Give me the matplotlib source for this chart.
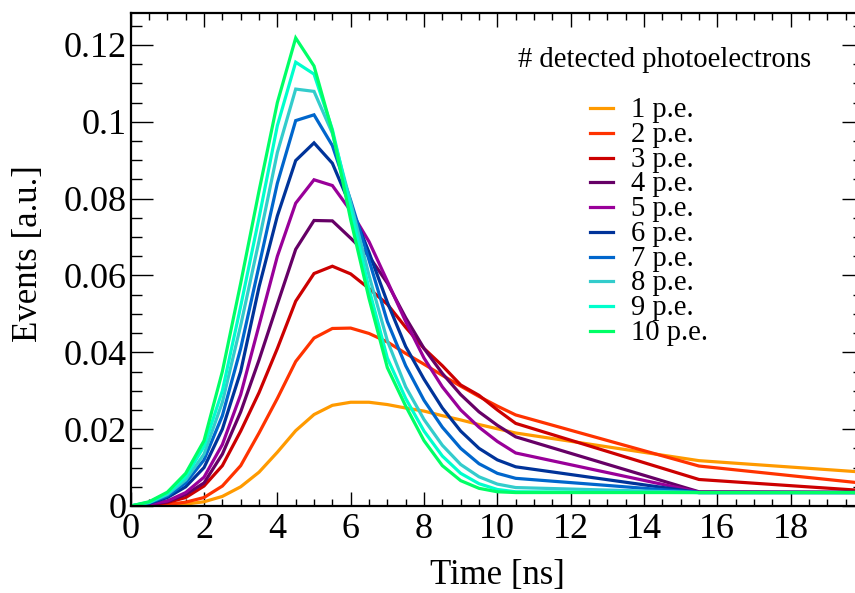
import numpy as np
import matplotlib.pyplot as plt
from matplotlib.lines import Line2D
from matplotlib.ticker import MultipleLocator, FuncFormatter

plt.rcParams['font.family'] = ['Liberation Serif', 'DejaVu Serif']

# time axis of the pulse shapes [ns]
time_ns = [0, 0.5, 1, 1.5, 2, 2.5, 3, 3.5, 4, 4.5, 5, 5.5, 6, 6.5, 7, 7.5,
           8, 8.5, 9, 9.5, 10, 10.5, 15.5, 20]

# normalised event distributions, one per number of photoelectrons
pe1 = [0, 0.0001, 0.0002, 0.0005, 0.0011, 0.0025, 0.0050, 0.0088, 0.0140, 0.0196,
       0.0238, 0.0262, 0.0270, 0.0270, 0.0264, 0.0255, 0.0247, 0.0235, 0.0224,
       0.0212, 0.0201, 0.0190, 0.0118, 0.0088]
pe2 = [0, 0.0001, 0.0004, 0.0010, 0.0022, 0.0052, 0.0105, 0.0190, 0.0280, 0.0376,
       0.0437, 0.0462, 0.0463, 0.0449, 0.0427, 0.0397, 0.0369, 0.0340, 0.0312,
       0.0285, 0.0260, 0.0237, 0.0104, 0.0059]
pe3 = [0, 0.0003, 0.0009, 0.0022, 0.0052, 0.0105, 0.0195, 0.0295, 0.0410, 0.0533,
       0.0605, 0.0624, 0.0604, 0.0566, 0.0525, 0.0465, 0.0410, 0.0365, 0.0315,
       0.0288, 0.0250, 0.0215, 0.0069, 0.0040]
pe4 = [0, 0.0004, 0.0011, 0.0030, 0.0060, 0.0135, 0.0245, 0.0380, 0.0525, 0.0668,
       0.0743, 0.0742, 0.0697, 0.0650, 0.0580, 0.0490, 0.0410, 0.0345, 0.0290,
       0.0245, 0.0210, 0.0180, 0.0037, 0.0036]
pe5 = [0, 0.0005, 0.0013, 0.0035, 0.0075, 0.0160, 0.0290, 0.0470, 0.0650, 0.0788,
       0.0849, 0.0834, 0.0768, 0.0688, 0.0585, 0.0480, 0.0385, 0.0310, 0.0250,
       0.0205, 0.0168, 0.0138, 0.0036, 0.0035]
pe6 = [0, 0.0007, 0.0022, 0.0050, 0.0100, 0.0200, 0.0350, 0.0570, 0.0755, 0.0899,
       0.0945, 0.0892, 0.0780, 0.0660, 0.0530, 0.0415, 0.0330, 0.0255, 0.0195,
       0.0150, 0.0120, 0.0102, 0.0035, 0.0035]
pe7 = [0, 0.0008, 0.0026, 0.0060, 0.0120, 0.0235, 0.0410, 0.0625, 0.0840, 0.1003,
       0.1018, 0.0938, 0.0795, 0.0640, 0.0480, 0.0365, 0.0275, 0.0205, 0.0150,
       0.0110, 0.0085, 0.0072, 0.0035, 0.0035]
pe8 = [0, 0.0009, 0.0030, 0.0068, 0.0135, 0.0270, 0.0470, 0.0690, 0.0920, 0.1085,
       0.1079, 0.0970, 0.0790, 0.0600, 0.0430, 0.0310, 0.0225, 0.0158, 0.0108,
       0.0076, 0.0057, 0.0048, 0.0035, 0.0035]
pe9 = [0, 0.0010, 0.0033, 0.0076, 0.0155, 0.0300, 0.0520, 0.0750, 0.0990, 0.1155,
       0.1124, 0.0980, 0.0775, 0.0565, 0.0385, 0.0280, 0.0195, 0.0130, 0.0085,
       0.0058, 0.0043, 0.0037, 0.0035, 0.0035]
pe10 = [0, 0.0011, 0.0036, 0.0085, 0.0170, 0.0350, 0.0580, 0.0820, 0.1050, 0.1218,
        0.1145, 0.0975, 0.0745, 0.0540, 0.0360, 0.0260, 0.0170, 0.0105, 0.0066,
        0.0046, 0.0037, 0.0035, 0.0035, 0.0035]

series = [pe1, pe2, pe3, pe4, pe5, pe6, pe7, pe8, pe9, pe10]
labels = ['%d p.e.' % n for n in range(1, 11)]
colors = ['#ff9a00', '#ff3300', '#cc0000', '#660066', '#990099',
          '#003399', '#0066cc', '#33cccc', '#00ffcc', '#00ff66']

W, H = 855, 593
fig = plt.figure(figsize=(W / 100, H / 100), dpi=100)

# frame in pixels: x from 130.7 to 864 (right edge runs off the canvas), y from 13 to 506
x0, x1, y0, y1 = 130.7, 864.0, 13.0, 506.0
ax = fig.add_axes([x0 / W, 1 - y1 / H, (x1 - x0) / W, (y1 - y0) / H])

for vals, col in zip(series, colors):
    ax.plot(time_ns, vals, color=col, lw=2.3, solid_joinstyle='miter')

ax.set_xlim(0, 20)
ax.set_ylim(0, 0.1283)

ax.set_xticks(np.arange(0, 19, 2))
ax.xaxis.set_minor_locator(MultipleLocator(0.5))
ax.yaxis.set_major_locator(MultipleLocator(0.02))
ax.yaxis.set_minor_locator(MultipleLocator(0.005))
ax.yaxis.set_major_formatter(FuncFormatter(lambda v, p: '%g' % round(v, 4)))

ax.tick_params(which='both', direction='in', top=True, right=True, width=1.0,
               labelsize=26, colors='black')
ax.tick_params(axis='x', which='major', length=10, pad=5)
ax.tick_params(axis='x', which='minor', length=5)
ax.tick_params(axis='y', which='major', length=16, pad=3)
ax.tick_params(axis='y', which='minor', length=8)
for s in ax.spines.values():
    s.set_linewidth(1.6)

ax.set_xlabel('Time [ns]', fontsize=25)
ax.xaxis.label.set_va('center')
ax.xaxis.set_label_coords(0.5, -0.14)
ax.set_ylabel('Events [a.u.]', fontsize=25)
ax.yaxis.label.set_va('center')
ax.yaxis.set_label_coords(-0.140, 0.513)

# legend drawn in pixel positions
def px(x, y):
    return x / W, 1 - y / H

fig.text(*px(665, 60), '# detected photoelectrons', fontsize=20.6,
         ha='center', va='center')
row0, step = 108.3, 24.7
for i, (lab, col) in enumerate(zip(labels, colors)):
    yy = row0 + i * step
    xa, ya = px(590, yy)
    xb, _ = px(613, yy)
    fig.add_artist(Line2D([xa, xb], [ya, ya], color=col, lw=2.3,
                          transform=fig.transFigure))
    fig.text(*px(631, yy + 9), lab, fontsize=20.6, ha='left', va='baseline')

fig.savefig('out.png', dpi=100)
